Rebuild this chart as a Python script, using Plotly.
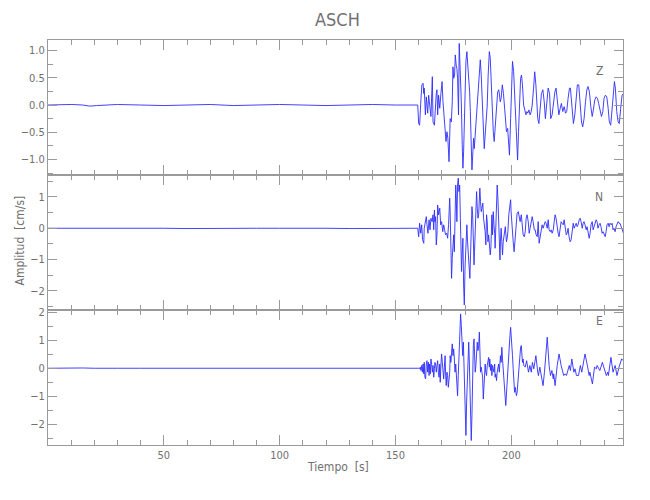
import plotly.graph_objects as go
from plotly.subplots import make_subplots

# ---------------- data (time in s, amplitude in cm/s) ----------------
z_t = [0, 5, 10, 15, 18, 21, 25, 30, 40, 50, 60, 70, 80, 90, 100, 110, 120, 130, 140, 150, 155, 159.6,
       160.0, 160.4, 161.0, 161.4, 161.9, 162.2, 162.4, 162.9, 163.3, 163.9, 164.3, 164.7, 165.3, 165.9,
       166.2, 166.8, 167.2, 167.6, 167.9, 168.2, 168.6, 169.1, 169.6, 170.1, 170.5, 170.8, 171.1, 171.5,
       171.8, 172.2, 172.6, 173.1, 173.4, 173.6, 174.1, 174.5, 174.8, 175.1, 175.5, 175.8, 176.2, 176.5,
       176.8, 177.2, 177.5, 177.8, 178.1, 178.4, 178.8, 179.1, 179.4, 179.7, 180.1, 180.4, 180.8, 181.3,
       181.7, 182.0, 182.3, 182.6, 183.0, 183.4, 183.7, 184.0, 184.4, 184.9, 185.4, 186.0, 186.6, 187.0,
       187.4, 187.9, 188.3, 188.7, 189.2, 189.6, 190.0, 190.5, 190.9, 191.3, 191.8, 192.2, 192.6, 193.0,
       193.5, 194.1, 194.6, 195.2, 195.6, 196.1, 196.6, 197.1, 197.5, 197.9, 198.4, 198.8, 199.2, 199.7,
       200.1, 200.5, 201.0, 201.4, 201.8, 202.2, 202.7, 203.1, 203.5, 204.0, 204.4, 204.8, 205.3, 205.8,
       206.3, 206.7, 207.1, 207.6, 208.1, 208.6, 209.0, 209.6, 210.1, 210.6, 211.0, 211.4, 211.9, 212.4,
       213.0, 213.6, 214.2, 214.7, 215.3, 215.9, 216.5, 217.0, 217.6, 218.2, 218.8, 219.3, 219.9, 220.5,
       221.1, 221.6, 222.2, 222.8, 223.4, 223.9, 224.5, 225.1, 225.5, 226.0, 226.4, 226.8, 227.4, 228.0,
       228.5, 229.1, 229.7, 230.3, 230.8, 231.4, 232.0, 232.6, 233.1, 233.7, 234.3, 234.9, 235.4, 236.0,
       236.6, 237.2, 237.7, 238.3, 238.9, 239.5, 240.0, 240.6, 241.2, 241.8, 242.3, 242.9, 243.5, 244.1,
       244.5, 244.9, 245.5, 246.1, 246.6, 247.2, 247.8, 248.4]
z_v = [0.0, 0.01, 0.01, 0.0, -0.02, -0.01, 0.0, 0.01, 0.0, -0.01, 0.0, 0.01, -0.01, 0.0, 0.01, 0.0, -0.01, 0.0, 0.01, 0.0, 0.0, 0.0,
       -0.34, -0.37, 0.12, 0.37, 0.40, 0.21, 0.31, -0.18, 0.15, -0.15, 0.18, 0.06, -0.21, 0.52,
       -0.31, -0.37, 0.06, 0.21, 0.28, -0.18, 0.18, -0.06, 0.21, 0.43, 0.06, -0.09, -0.18, -0.43,
       -0.67, -0.49, -0.61, -1.04, -0.73, -0.25, -0.31, 0.06, 0.70, 0.49, 0.55, 0.92, 0.73, 0.67,
       0.49, -0.18, 1.13, 0.80, 0.49, 0.06, -0.73, -1.16, -0.86, -0.25, 0.37, 0.80, 0.98, 0.73,
       0.55, 0.24, -0.12, -0.61, -1.19, -0.86, -0.61, -0.80, -0.55, -0.25, 0.06, 0.61, 0.83, 0.55,
       0.06, -0.31, -0.80, -0.55, -0.25, 0.0, 0.55, 0.98, 0.86, 0.31, -0.25, -0.49, -0.67, -0.43,
       -0.12, 0.24, 0.28, 0.06, 0.12, 0.37, 0.21, -0.06, -0.31, -0.49, -0.43, -0.73, -0.92, -0.25,
       0.37, 0.80, 0.61, 0.18, -0.31, -0.73, -1.01, -0.49, 0.06, 0.49, 0.55, 0.37, 0.0, -0.12,
       -0.18, -0.12, -0.15, -0.09, -0.18, -0.12, 0.0, 0.31, 0.61, 0.37, 0.0, -0.25, -0.34, -0.06,
       0.21, 0.28, 0.06, -0.25, 0.06, 0.31, 0.21, -0.25, -0.18, 0.06, 0.24, 0.31, 0.06, -0.18,
       -0.06, 0.03, -0.12, -0.03, -0.15, -0.12, 0.12, 0.31, 0.31, 0.06, -0.18, -0.34, -0.18, 0.09,
       0.37, 0.37, 0.06, -0.31, -0.40, -0.25, 0.06, 0.28, 0.34, 0.24, -0.03, -0.21, -0.09, 0.09,
       0.15, 0.12, 0.03, -0.12, -0.21, -0.12, 0.12, 0.18, 0.15, -0.06, -0.31, -0.37, -0.12, 0.24,
       0.43, 0.31, -0.12, -0.31, -0.34, -0.06, 0.18, 0.21]

n_t = [0, 4, 8, 12, 16, 20, 24, 30, 40, 50, 60, 70, 80, 90, 100, 110, 120, 130, 140, 150, 159.6,
       160.0, 160.4, 160.9, 161.3, 161.7, 162.2, 162.4, 162.9, 163.3, 163.6, 164.0, 164.5, 164.9, 165.3,
       165.8, 166.2, 166.5, 166.8, 167.0, 167.3, 167.6, 167.9, 168.2, 168.6, 169.1, 169.5, 169.9, 170.4,
       170.8, 171.2, 171.6, 172.1, 172.5, 172.9, 173.4, 173.6, 173.9, 174.2, 174.5, 174.8, 175.1, 175.4,
       175.7, 176.0, 176.2, 176.5, 176.8, 177.1, 177.4, 177.7, 178.0, 178.2, 178.5, 178.8, 179.1, 179.4,
       179.7, 180.0, 180.3, 180.5, 180.8, 181.1, 181.4, 181.8, 182.1, 182.4, 182.7, 183.0, 183.3, 183.6,
       183.9, 184.1, 184.4, 184.7, 185.0, 185.3, 185.6, 185.9, 186.2, 186.4, 186.7, 187.0, 187.3, 187.7,
       188.0, 188.5, 188.7, 189.0, 189.3, 189.6, 189.9, 190.2, 190.5, 190.9, 191.2, 191.6, 191.9, 192.2,
       192.5, 192.8, 193.0, 193.3, 193.6, 193.9, 194.2, 194.5, 194.8, 195.1, 195.3, 195.6, 195.9, 196.2,
       196.5, 196.8, 197.1, 197.4, 197.6, 197.9, 198.2, 198.5, 198.9, 199.4, 199.7, 199.9, 200.4, 200.8,
       201.2, 201.7, 202.1, 202.5, 203.0, 203.4, 203.8, 204.3, 204.7, 205.1, 205.6, 206.0, 206.4, 206.8,
       207.3, 207.7, 208.1, 208.6, 209.0, 209.4, 209.9, 210.3, 210.7, 211.2, 211.6, 212.0, 212.4, 212.9,
       213.3, 213.7, 214.2, 214.6, 215.0, 215.5, 215.9, 216.3, 216.8, 217.2, 217.6, 218.1, 218.5, 218.9,
       219.3, 219.8, 220.2, 220.6, 221.1, 221.5, 221.9, 222.4, 222.8, 223.2, 223.7, 224.1, 224.5, 224.9,
       225.4, 225.8, 226.2, 226.7, 227.1, 227.5, 228.0, 228.4, 228.8, 229.3, 229.7, 230.1, 230.6, 231.0,
       231.4, 231.8, 232.3, 232.7, 233.1, 233.6, 234.0, 234.4, 234.9, 235.3, 235.7, 236.2, 236.6, 237.0,
       237.4, 237.9, 238.3, 238.7, 239.2, 239.6, 240.0, 240.5, 240.9, 241.3, 241.8, 242.2, 242.6, 243.1,
       243.5, 243.9, 244.3, 244.8, 245.2, 245.6, 246.1, 246.5, 246.9, 247.4, 247.8, 248.4]
n_v = [0.0, 0.0, 0.02, 0.01, 0.02, 0.0, 0.01, 0.0, 0.01, 0.0, -0.01, 0.0, 0.01, 0.0, 0.0, 0.01, 0.0, -0.01, 0.0, 0.0, 0.0,
       -0.27, 0.16, -0.16, 0.11, -0.37, -0.48, 0.0, 0.21, 0.37, 0.11, -0.16, 0.27, -0.05, 0.32,
       0.21, 0.43, -0.05, 0.58, 0.21, 0.37, -0.53, -0.21, 0.74, 0.43, 0.64, 0.11, 0.21, -0.11,
       0.11, -0.05, -0.21, -0.16, -0.32, 0.11, 0.96, 0.53, -0.43, -1.60, -0.96, -0.43, -0.21, -0.75,
       0.43, 1.38, 1.06, 0.21, 1.38, 1.60, 1.17, 1.38, 0.32, -0.64, -1.38, -0.75, -0.32, -1.81,
       -2.45, -1.28, -0.43, 0.0, 0.11, -0.43, -0.75, -0.96, -1.60, -0.85, 0.32, 0.69, 0.43, -0.43,
       -1.17, -0.75, 0.21, 1.06, 1.17, 0.64, 0.32, 0.43, 1.01, 1.28, 0.85, 0.53, 0.64, 0.80,
       0.32, 0.11, -0.11, -0.53, 0.43, 0.21, -0.43, -0.21, -0.43, -0.85, -0.59, 0.43, -0.21, 0.53,
       0.11, -0.16, -0.64, 0.32, 1.06, 1.38, 0.96, 0.11, -0.64, -1.01, -0.43, 0.0, -0.43, -0.85,
       -0.43, -0.27, -0.16, 0.05, -0.16, -0.43, -0.32, -0.11, 0.43, 0.80, 0.91, 0.53, -0.21, -0.43,
       -0.75, -0.32, 0.0, 0.48, 0.53, 0.32, 0.21, 0.43, 0.11, -0.21, -0.27, -0.11, 0.32, 0.43,
       0.21, -0.16, 0.0, 0.27, 0.37, 0.21, -0.05, -0.05, -0.21, -0.27, 0.21, -0.48, -0.32, -0.11,
       0.11, 0.0, 0.11, 0.21, 0.16, 0.0, 0.27, -0.05, -0.11, -0.05, -0.16, -0.05, 0.21, 0.43,
       0.32, 0.0, -0.16, -0.27, 0.0, 0.21, 0.16, 0.11, 0.27, 0.05, -0.21, -0.16, 0.0, -0.27,
       -0.43, -0.37, -0.05, 0.16, 0.0, 0.11, 0.16, 0.05, 0.11, 0.27, 0.32, 0.21, 0.0, 0.16,
       0.21, 0.11, -0.05, 0.05, -0.16, -0.32, -0.16, 0.11, 0.21, -0.05, 0.05, 0.16, 0.27, 0.21,
       0.0, 0.11, 0.16, 0.05, -0.16, -0.11, -0.21, -0.27, -0.11, 0.11, 0.16, 0.05, 0.16, 0.11,
       0.16, -0.05, 0.0, -0.11, 0.05, 0.11, 0.21, 0.16, 0.16, 0.05, -0.05, -0.16]

e_t = [0, 5, 10, 15, 20, 25, 30, 40, 50, 60, 70, 80, 90, 100, 110, 120, 130, 140, 150, 155, 160.0,
       160.4, 160.7, 161.0, 161.3, 161.6, 161.9, 162.2, 162.4, 162.7, 163.0, 163.3, 163.6, 163.9, 164.2,
       164.5, 164.7, 165.0, 165.3, 165.6, 165.9, 166.2, 166.5, 166.8, 167.0, 167.3, 167.6, 167.9, 168.2,
       168.5, 168.8, 169.1, 169.3, 169.6, 169.9, 170.2, 170.5, 170.8, 171.1, 171.4, 171.6, 171.9, 172.2,
       172.5, 172.8, 173.1, 173.4, 173.6, 173.9, 174.2, 174.5, 174.8, 175.1, 175.4, 175.7, 176.0, 176.2,
       176.5, 176.8, 177.1, 177.4, 177.7, 178.0, 178.1, 178.4, 178.7, 179.0, 179.3, 179.5, 179.8, 180.1,
       180.4, 180.7, 181.0, 181.3, 181.6, 181.8, 182.1, 182.4, 182.7, 183.0, 183.3, 183.6, 183.9, 184.1,
       184.4, 184.7, 185.0, 185.3, 185.6, 185.9, 186.2, 186.4, 186.7, 187.0, 187.3, 187.6, 187.9, 188.2,
       188.5, 188.7, 189.0, 189.3, 189.6, 189.9, 190.2, 190.5, 190.7, 191.0, 191.3, 191.6, 191.9, 192.2,
       192.5, 192.8, 193.0, 193.3, 193.6, 193.9, 194.2, 194.5, 194.8, 195.1, 195.3, 195.6, 195.9, 196.2,
       196.5, 196.8, 197.1, 197.4, 197.6, 197.9, 198.2, 198.5, 198.8, 199.1, 199.4, 199.7, 199.9, 200.2,
       200.5, 200.8, 201.1, 201.4, 201.7, 202.0, 202.2, 202.5, 202.8, 203.1, 203.4, 203.7, 204.0, 204.3,
       204.5, 204.8, 205.1, 205.4, 206.0, 206.6, 207.4, 208.0, 208.6, 209.1, 209.7, 210.6, 211.4, 211.7,
       212.3, 213.7, 214.3, 215.5, 216.3, 216.9, 217.5, 218.1, 218.3, 218.9, 219.8, 220.6, 221.5, 222.6,
       223.2, 223.8, 225.0, 225.5, 226.1, 227.0, 227.5, 228.1, 229.0, 229.8, 230.4, 231.0, 231.8, 232.7,
       233.6, 233.9, 235.0, 235.9, 236.7, 237.0, 238.2, 239.3, 240.2, 241.0, 241.6, 241.9, 243.0, 243.9,
       244.8, 245.6, 246.5, 247.6, 248.4]
e_v = [0.0, 0.01, 0.0, 0.01, 0.0, -0.01, 0.0, 0.0, 0.0, -0.01, 0.0, 0.01, 0.0, 0.01, 0.0, 0.0, 0.0, 0.01, 0.0, 0.0, 0.0,
       -0.02, 0.04, -0.08, 0.10, -0.14, 0.15, -0.20, 0.21, -0.32, -0.38, 0.15, 0.27, -0.14, 0.21,
       -0.26, 0.15, -0.20, 0.33, 0.15, -0.14, 0.10, -0.32, -0.02, 0.21, 0.15, -0.14, 0.10, 0.27,
       -0.14, -0.32, 0.15, -0.50, 0.10, 0.51, 0.21, -0.14, -0.38, 0.04, 0.45, -0.14, -0.62, -0.14,
       -0.26, -0.68, -0.50, -0.14, 0.45, 0.21, 0.57, 0.87, 0.45, 0.69, 0.33, -0.14, 0.15, -0.26,
       -0.62, -0.98, -0.26, 0.45, 0.57, 1.29, 1.94, 1.52, 0.69, 0.45, 0.93, 0.33, -0.98, -1.69,
       -2.40, -1.21, -0.14, 0.57, 0.93, 0.45, -0.50, -1.57, -2.58, -1.69, -0.14, 0.81, 1.05, 0.33,
       -0.14, 0.10, 0.57, 0.93, 0.63, 0.81, 1.29, 0.45, -0.14, 0.04, -0.14, -0.32, -1.10, -0.62,
       -0.02, 0.15, -0.14, -0.26, 0.10, 0.21, 0.39, 0.04, 0.33, -0.08, 0.15, -0.26, 0.10, -0.02,
       -0.14, 0.15, -0.32, -0.20, -0.44, -0.14, 0.04, 0.15, -0.14, 0.21, 0.45, 0.21, 0.75, 0.33,
       -0.14, -0.50, -0.86, -1.10, -1.33, -0.86, -0.50, -0.14, 0.33, 0.81, 1.17, 1.46, 1.05, 0.87,
       0.45, -0.02, -0.62, -0.86, -0.68, -0.80, -0.98, -0.86, -0.50, -0.14, 0.21, 0.45, 0.75, 0.81,
       0.45, 0.21, 0.33, 0.10, 0.04, 0.27, -0.14, 0.10, -0.14, 0.21, -0.02, 0.45, -0.14, -0.26,
       0.04, -0.62, -0.14, 1.11, 0.10, -0.26, -0.08, -0.38, -0.20, -0.62, 0.10, 0.51, 0.10, -0.26,
       -0.20, -0.26, 0.10, -0.08, 0.33, -0.14, -0.02, -0.26, -0.26, 0.10, -0.14, 0.21, 0.51, 0.15,
       -0.26, -0.14, -0.56, 0.04, -0.02, 0.10, -0.08, 0.21, -0.08, -0.26, -0.14, -0.26, 0.39, -0.14,
       0.10, -0.26, 0.04, 0.33, 0.27]

components = ["Z", "N", "E"]
x_ticks = [50, 100, 150, 200]
station = "ASCH"
x_title = "Tiempo  [s]"
y_title = "Amplitud  [cm/s]"

# ---------------- figure ----------------
FONT = "Liberation Sans Narrow, DejaVu Sans Condensed, Arial Narrow, sans-serif"
GRAY = "#9a9a9a"
TXT = "#707070"
LINE = "rgb(45,45,255)"

fig = make_subplots(rows=3, cols=1, shared_xaxes=True, vertical_spacing=0)
for i, (t, v) in enumerate([(z_t, z_v), (n_t, n_v), (e_t, e_v)], start=1):
    fig.add_trace(go.Scatter(x=t, y=v, mode="lines", line=dict(color=LINE, width=0.9),
                             showlegend=False, hoverinfo="skip"), row=i, col=1)

axis_common = dict(showline=True, linecolor=GRAY, linewidth=1, mirror="ticks", ticks="inside",
                   tickcolor=GRAY, tickwidth=1, showgrid=False, zeroline=False,
                   tickfont=dict(family=FONT, size=11, color=TXT))

for i in range(1, 4):
    fig.update_xaxes(range=[0, 248.2], tickmode="array", tickvals=x_ticks,
                     ticktext=[str(v) for v in x_ticks], ticklen=10,
                     minor=dict(dtick=10, tick0=0, ticklen=5, ticks="inside", tickcolor=GRAY, showgrid=False),
                     row=i, col=1, **axis_common)

fig.update_yaxes(range=[-1.284, 1.193], dtick=0.5, tick0=0, tickformat=".1f", ticklen=9,
                 minor=dict(dtick=0.25, tick0=0, ticklen=5, ticks="inside", tickcolor=GRAY),
                 row=1, col=1, **axis_common)
fig.update_yaxes(range=[-2.61, 1.70], dtick=1, tick0=0, ticklen=9,
                 minor=dict(dtick=0.5, tick0=0, ticklen=5, ticks="inside", tickcolor=GRAY),
                 row=2, col=1, **axis_common)
fig.update_yaxes(range=[-2.74, 2.08], dtick=1, tick0=0, ticklen=9,
                 minor=dict(dtick=0.5, tick0=0, ticklen=5, ticks="inside", tickcolor=GRAY),
                 row=3, col=1, **axis_common)

ann = []
for name, yy in zip(components, [0.946, 0.612, 0.284]):
    ann.append(dict(text=name, x=0.968, y=yy, xref="paper", yref="paper", showarrow=False,
                    font=dict(family=FONT, size=12, color=TXT)))
ann.append(dict(text=station, x=0.503, y=1.05, xref="paper", yref="paper", showarrow=False,
                font=dict(family=FONT, size=18, color=TXT), yanchor="middle"))
ann.append(dict(text=x_title, x=0.505, y=-0.055, xref="paper", yref="paper", showarrow=False,
                font=dict(family=FONT, size=12, color=TXT), yanchor="middle"))
ann.append(dict(text=y_title, x=-0.047, y=0.505, xref="paper", yref="paper", showarrow=False,
                textangle=-90, font=dict(family=FONT, size=12, color=TXT), xanchor="center", yanchor="middle"))

fig.update_layout(width=650, height=500, margin=dict(l=40, r=35, t=32, b=63),
                  paper_bgcolor="white", plot_bgcolor="white", annotations=ann,
                  font=dict(family=FONT, color=TXT))

fig.write_html("out.html")
